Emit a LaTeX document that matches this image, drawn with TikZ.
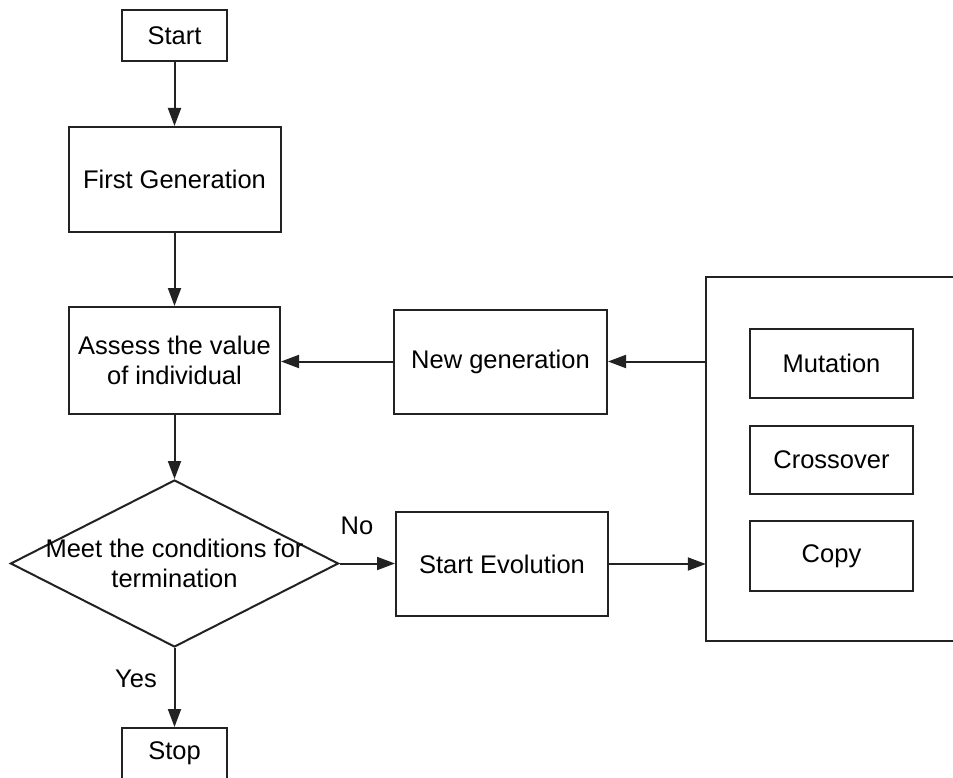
\documentclass[tikz,border=0pt]{standalone}
\usepackage{fontspec}
\setmainfont{Liberation Sans}
\usetikzlibrary{arrows.meta,shapes.geometric}
\definecolor{ln}{HTML}{222222}
\begin{document}
\begin{tikzpicture}[x=1pt,y=-1pt,
  every node/.style={font=\fontsize{25.5}{30}\selectfont, text=black},
  box/.style={draw=ln, line width=2pt, rectangle, inner sep=0pt, align=center},
  arr/.style={draw=ln, line width=2pt, -{Triangle[length=18pt,width=13pt]}},
  lbl/.style={inner sep=0pt}
]
\useasboundingbox (0,0) rectangle (953,778);
\fill[white] (0,0) rectangle (953,778);

\node[box, minimum width=105pt, minimum height=51pt] (start) at (174.5,35.5) {Start};
\node[box, minimum width=212pt, minimum height=105pt] (first) at (174.5,179.5) {First Generation};
\node[box, minimum width=211pt, minimum height=107pt] (assess) at (174.5,360.5) {Assess the value\\of individual};
\node[box, minimum width=213pt, minimum height=104pt] (newgen) at (500.5,361.5) {New generation};
\node[diamond, draw=ln, line width=2pt, inner sep=0pt, minimum width=328pt, minimum height=167pt,
      label={[align=center, text=black]center:Meet the conditions for\\termination}] (cond) at (174.5,563.5) {};
\node[box, minimum width=212pt, minimum height=104pt] (evo) at (502,564) {Start Evolution};
\node[box, minimum width=105pt, minimum height=56pt] (stop) at (174.5,756) {};
\node[lbl] (stoptxt) at (174.5,753) {Stop};

\node[minimum width=270pt, minimum height=364pt, inner sep=0pt] (ops) at (841,459) {};
\draw[draw=ln, line width=2pt] (ops.north east) -- (ops.north west) -- (ops.south west) -- (ops.south east);
\node[box, minimum width=163pt, minimum height=69pt] (mut) at (831.5,363.5) {Mutation};
\node[box, minimum width=163pt, minimum height=68pt] (cross) at (831.5,460) {Crossover};
\node[box, minimum width=163pt, minimum height=70pt] (copy) at (831.5,556) {Copy};

\node[lbl] (no) at (357,526) {No};
\node[lbl] (yes) at (136,679) {Yes};

\draw[arr] (start) -- (first);
\draw[arr] (first) -- (assess);
\draw[arr] (assess) -- (cond.north);
\draw[arr] (cond.east) -- (cond.east -| evo.west);
\draw[arr] (evo.east) -- (evo.east -| ops.west);
\draw[arr] (newgen.east -| ops.west) -- (newgen.east);
\draw[arr] (newgen.west) -- (newgen.west -| assess.east);
\draw[arr] (cond.south) -- (stop.north);
\end{tikzpicture}
\end{document}
